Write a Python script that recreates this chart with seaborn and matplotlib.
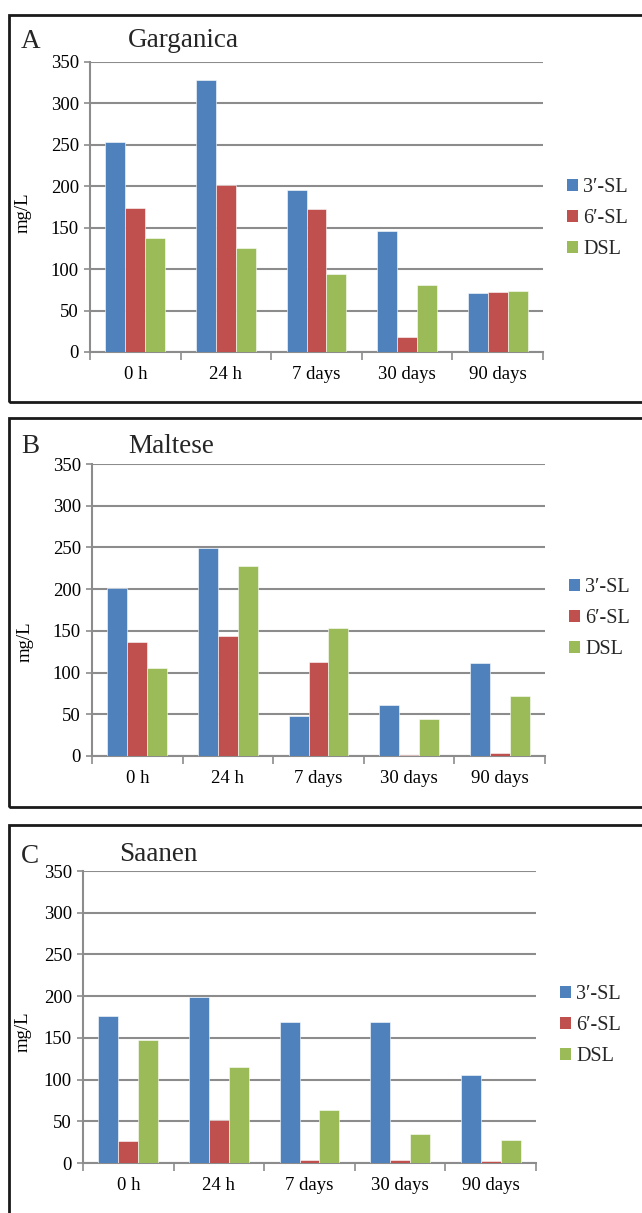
import numpy as np
import pandas as pd
import matplotlib
matplotlib.use("Agg")
import matplotlib.pyplot as plt
from matplotlib.patches import Rectangle
from matplotlib.ticker import FixedLocator
import seaborn as sns

# ---------------- data ----------------
times = ["0 h", "24 h", "7 days", "30 days", "90 days"]
compounds = ["3\u2032-SL", "6\u2032-SL", "DSL"]

garganica_3sl = [254, 328, 196, 146, 71]
garganica_6sl = [174, 201, 172, 18, 72]
garganica_dsl = [138, 126, 94, 81, 74]

maltese_3sl = [201, 249, 48, 61, 111]
maltese_6sl = [137, 144, 113, 1.5, 3]
maltese_dsl = [105, 228, 153, 44, 72]

saanen_3sl = [176, 199, 169, 169, 106]
saanen_6sl = [26, 52, 3.5, 3.5, 2]
saanen_dsl = [147, 115, 64, 35, 27]

panel_letters = ["A", "B", "C"]
breeds = ["Garganica", "Maltese", "Saanen"]
palette = ["#4F81BD", "#C0504D", "#9BBB59"]


def long_df(s3, s6, sd):
    rows = []
    for name, vals in zip(compounds, [s3, s6, sd]):
        for t, v in zip(times, vals):
            rows.append({"time": t, "compound": name, "value": v})
    return pd.DataFrame(rows)


datasets = [
    long_df(garganica_3sl, garganica_6sl, garganica_dsl),
    long_df(maltese_3sl, maltese_6sl, maltese_dsl),
    long_df(saanen_3sl, saanen_6sl, saanen_dsl),
]

sns.set_theme(style="white")
plt.rcParams["font.family"] = ["Liberation Serif", "DejaVu Serif"]

W, H = 642, 1213
fig = plt.figure(figsize=(W / 100, H / 100), dpi=100)


def fx(px):
    return px / W


def fy(py):
    return 1 - py / H


# axes boxes in pixels: (left, right, top, bottom)
axes_px = [(90, 543, 62, 352), (92, 545, 464, 756), (83, 536, 871, 1163)]
frames_px = [(9, 15, 402), (9, 418, 807), (9, 825, 1220)]
letter_pos = [(21, 48), (21, 453), (21, 863)]
title_pos = [(128, 47), (128, 453), (119, 861)]
ylabel_coords = [(-0.128, 0.48), (-0.13, 0.39), (-0.113, 0.45)]
legend_y = [0.46, 0.47, 0.47]

grid_col = "#8C8C8C"

for i in range(3):
    l, r, t, b = axes_px[i]
    ax = fig.add_axes([fx(l), fy(b), (r - l) / W, (b - t) / H])
    sns.barplot(data=datasets[i], x="time", y="value", hue="compound",
                order=times, hue_order=compounds, palette=palette,
                width=0.66, dodge=True, ax=ax, edgecolor="white",
                linewidth=0.4, saturation=1, errorbar=None, zorder=3)
    ax.set_ylim(0, 350)
    ax.set_xlim(-0.5, 4.5)
    ax.set_yticks(np.arange(0, 351, 50))
    ax.yaxis.grid(True, color=grid_col, linewidth=1.5, zorder=0)
    ax.set_axisbelow(True)
    for s in ["top", "right"]:
        ax.spines[s].set_visible(False)
    for s in ["left", "bottom"]:
        ax.spines[s].set_color(grid_col)
        ax.spines[s].set_linewidth(1.5)
    ax.set_xlabel("")
    ax.set_ylabel("mg/L", fontsize=13.5, color="black")
    ax.yaxis.set_label_coords(*ylabel_coords[i])
    ax.tick_params(axis="y", which="major", left=True, length=4, width=1.2,
                   color=grid_col, labelsize=13.5, pad=4, labelcolor="black")
    ax.tick_params(axis="x", which="major", bottom=False, length=0,
                   labelsize=13.5, pad=10, labelcolor="black")
    ax.xaxis.set_minor_locator(FixedLocator(np.arange(-0.5, 4.6, 1.0)))
    ax.tick_params(axis="x", which="minor", bottom=True, length=6, width=1.2,
                   color=grid_col)
    leg = ax.legend(loc="center left", bbox_to_anchor=(1.035, legend_y[i]),
                    frameon=False, fontsize=14.5, handlelength=0.55,
                    handleheight=0.55, handletextpad=0.25, labelspacing=0.6,
                    borderaxespad=0)
    for p in leg.get_patches():
        p.set_edgecolor("none")

    # panel frame
    x0, top, bot = frames_px[i]
    fig.add_artist(Rectangle((fx(x0), fy(bot)), 1.2, fy(top) - fy(bot),
                             transform=fig.transFigure, fill=False,
                             edgecolor="#1a1a1a", linewidth=2))
    fig.text(fx(letter_pos[i][0]), fy(letter_pos[i][1]), panel_letters[i],
             fontsize=19.5, va="baseline", ha="left")
    fig.text(fx(title_pos[i][0]), fy(title_pos[i][1]), breeds[i],
             fontsize=19.5, va="baseline", ha="left")

fig.savefig("out.png", dpi=100, facecolor="white")
